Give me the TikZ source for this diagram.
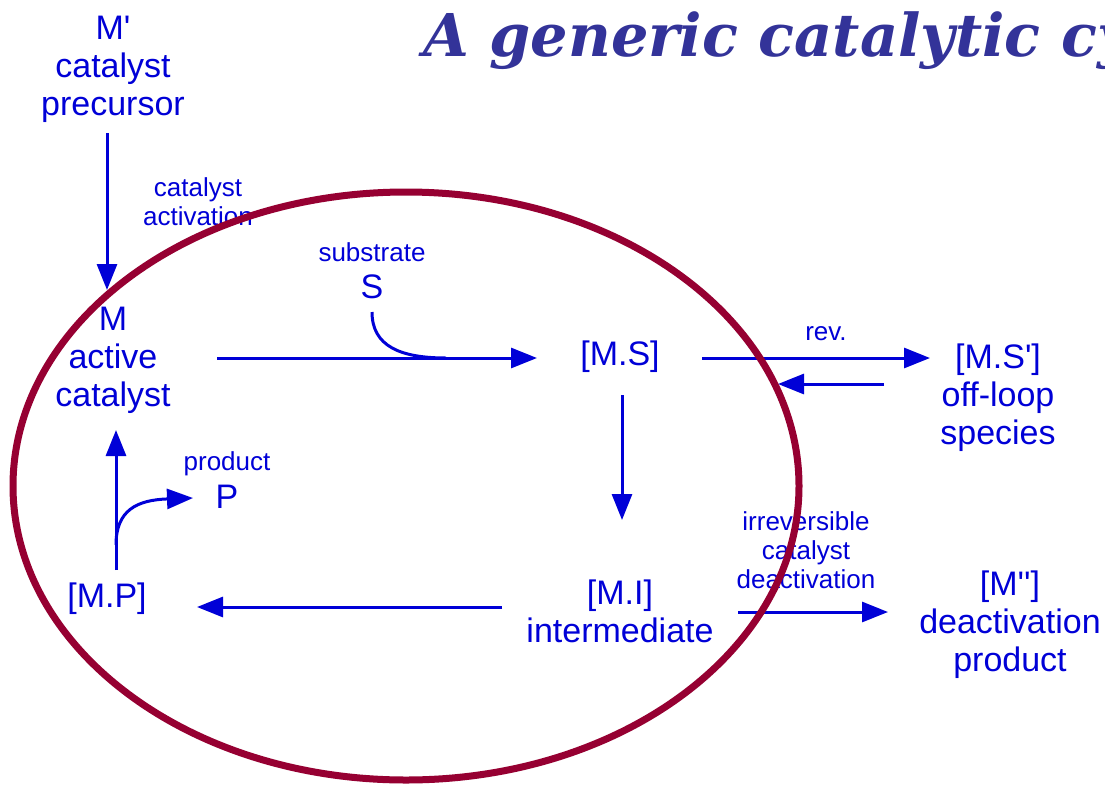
\documentclass[tikz,border=0pt]{standalone}
\usepackage{fontspec}
\setmainfont{Liberation Sans}
\newfontfamily\titlefont{DejaVu Serif}
\usetikzlibrary{arrows.meta}
\definecolor{txtblue}{RGB}{0,0,215}
\definecolor{loopred}{RGB}{150,0,50}
\definecolor{titleblue}{RGB}{51,51,153}
\newcommand{\sq}{\textquotesingle}
\begin{document}
\begin{tikzpicture}[x=1pt,y=-1pt,
  big/.style={text=txtblue,align=center,font=\fontsize{34}{38}\selectfont,inner sep=0pt},
  small/.style={text=txtblue,align=center,font=\fontsize{26}{29}\selectfont,inner sep=0pt},
  arr/.style={draw=txtblue,line width=3pt,-{Triangle[length=26pt,width=20pt]}},
  plain/.style={draw=txtblue,line width=3pt}]
\useasboundingbox (0,0) rectangle (1105,785);
\clip (0,0) rectangle (1105,785);
\fill[white] (0,0) rectangle (1105,785);
% title
\node[anchor=base west,inner sep=0pt,text=titleblue,font=\titlefont\bfseries\itshape\fontsize{59}{66}\selectfont] (title) at (423,56) {A generic catalytic cycle};
% nodes
\node[big] (prec) at (113,69) {M\sq\\catalyst\\precursor};
\node[big] (M) at (113,360) {M\\active\\catalyst};
\node[big] (MS) at (620,357) {[M.S]};
\node[big] (MSp) at (998,398) {[M.S\sq]\\off-loop\\species};
\node[big] (MI) at (620,611) {[M.I]\\intermediate};
\node[big] (MP) at (107,599) {[M.P]};
\node[big] (Mpp) at (1010,625) {[M\sq\sq]\\deactivation\\product};
\node[small] (subl) at (372,252) {substrate};
\node[big] (S) at (372,287) {S};
\node[small] (prodl) at (227,464) {product};
\node[big] (P) at (227,497) {P};
\node[small] (rev) at (826,334) {rev.};
\node[small] (irr) at (806,550) {irreversible\\catalyst\\deactivation};
\node[small] (act) at (198,202) {catalyst\\activation};
% connectors
\draw[arr] ([shift={(-6,64)}]prec.center) -- ([shift={(-6,-70)}]M.center);
\draw[arr] ([shift={(104,-2)}]M.center) -- ([shift={(-83,1)}]MS.center);
\draw[plain] ([shift={(0,25)}]S.center) .. controls ([shift={(0,59)}]S.center) and ([shift={(28,71)}]S.center) .. ([shift={(74,71)}]S.center);
\draw[arr] ([shift={(82,1)}]MS.center) -- ([shift={(-68,-40)}]MSp.center);
\draw[arr] ([shift={(-114,-14)}]MSp.center) -- ([shift={(158,27)}]MS.center);
\draw[arr] ([shift={(2,38)}]MS.center) -- ([shift={(2,-91)}]MI.center);
\draw[arr] ([shift={(-118,-4)}]MI.center) -- ([shift={(90,8)}]MP.center);
\draw[arr] ([shift={(9,-29)}]MP.center) -- ([shift={(3,70)}]M.center);
\draw[arr] ([shift={(9,-54)}]MP.center) .. controls ([shift={(9,-89)}]MP.center) and ([shift={(30,-99)}]MP.center) .. ([shift={(-34,1)}]P.center);
\draw[arr] ([shift={(118,1)}]MI.center) -- ([shift={(-122,-13)}]Mpp.center);
% loop
\draw[loopred,line width=7pt] (406,486) ellipse [x radius=393, y radius=294];
\end{tikzpicture}
\end{document}
